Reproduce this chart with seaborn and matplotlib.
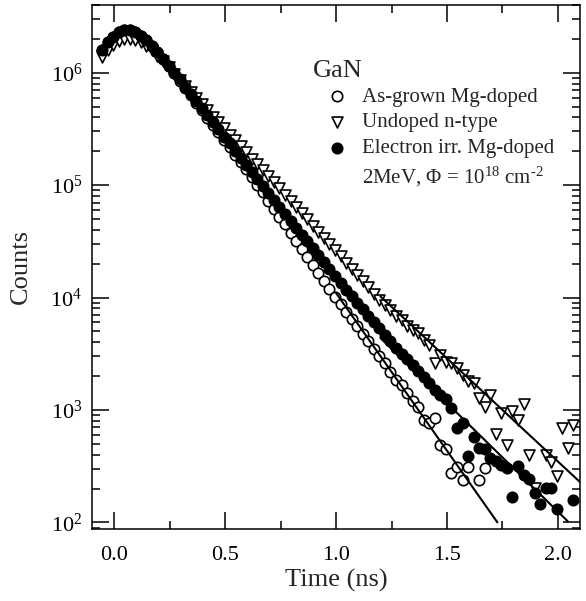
import numpy as np
import pandas as pd
import seaborn as sns
import matplotlib
matplotlib.use("Agg")
import matplotlib.pyplot as plt
from matplotlib.lines import Line2D
from matplotlib.ticker import FixedLocator, MultipleLocator, LogLocator, FormatStrFormatter

# time channels (ns)
time_ns = [-0.055, -0.030, -0.005, 0.020, 0.045, 0.070, 0.095, 0.120, 0.145, 0.170,
           0.195, 0.220, 0.245, 0.270, 0.295, 0.320, 0.345, 0.370, 0.395, 0.420,
           0.445, 0.470, 0.495, 0.520, 0.545, 0.570, 0.595, 0.620, 0.645, 0.670,
           0.695, 0.720, 0.745, 0.770, 0.795, 0.820, 0.845, 0.870, 0.895, 0.920,
           0.945, 0.970, 0.995, 1.020, 1.045, 1.070, 1.095, 1.120, 1.145, 1.170,
           1.195, 1.220, 1.245, 1.270, 1.295, 1.320, 1.345, 1.370, 1.395, 1.420,
           1.445, 1.470, 1.495, 1.520, 1.545, 1.570, 1.595, 1.620, 1.645, 1.670,
           1.695, 1.720, 1.745, 1.770, 1.795, 1.820, 1.845, 1.870, 1.895, 1.920,
           1.945, 1.970, 1.995, 2.020, 2.045, 2.070]

# log10(counts)
log_as_grown = [6.20, 6.27, 6.32, 6.36, 6.38, 6.38, 6.36, 6.33, 6.29, 6.24, 6.18, 6.12, 6.06, 5.995,
                5.93, 5.865, 5.80, 5.73, 5.665, 5.60, 5.535, 5.47, 5.40, 5.335, 5.27, 5.205, 5.14, 5.07, 5.005,
                4.935, 4.86, 4.79, 4.72, 4.65, 4.575, 4.505, 4.435, 4.36, 4.29, 4.22, 4.15, 4.075, 4.005,
                3.94, 3.875, 3.81, 3.745, 3.675, 3.61, 3.545,
                3.48, 3.42, 3.34, 3.27, 3.22, 3.15, 3.08, 3.03,
                2.91, 2.88, 2.93, 2.69, 2.65, 2.44, 2.49, 2.38, 2.49, None, 2.38, 2.48]

log_undoped = [6.14, 6.20, 6.25, 6.28, 6.30, 6.30, 6.29, 6.27, 6.24, 6.20, 6.15, 6.10, 6.05, 5.99, 5.935,
               5.88, 5.83, 5.775, 5.72, 5.665, 5.61, 5.56, 5.505, 5.45, 5.40, 5.345, 5.29, 5.235, 5.185, 5.13,
               5.08, 5.025, 4.97,
               4.915, 4.86, 4.805, 4.75, 4.695, 4.64, 4.585, 4.53, 4.475, 4.42, 4.365, 4.31, 4.255, 4.20,
               4.145, 4.09, 4.035, 3.98,
               3.935, 3.89, 3.84, 3.80, 3.75, 3.71, 3.68, 3.62, 3.58,
               3.42, 3.49, 3.43, 3.42, 3.37, 3.31, 3.26, 3.24, 3.11, 3.03, 3.135, 2.79, 2.97, 2.69, 2.99,
               2.91, 3.05, 2.60, 2.31, None, 2.60, 2.54, 2.41, 2.84, 2.66, 2.87]

log_irradiated = [6.20, 6.27, 6.32, 6.36, 6.38, 6.38, 6.36, 6.33, 6.29, 6.24, 6.18, 6.12, 6.06, 6.00,
                  5.94, 5.875, 5.81, 5.75, 5.685, 5.62, 5.56, 5.495, 5.43, 5.37, 5.305, 5.24, 5.18, 5.115,
                  5.05, 4.99,
                  4.93, 4.87, 4.805, 4.745, 4.685, 4.62, 4.56, 4.50, 4.44, 4.375, 4.315, 4.255, 4.19, 4.13,
                  4.07, 4.01,
                  3.95, 3.895, 3.84, 3.78, 3.725, 3.67, 3.61, 3.555, 3.50, 3.45, 3.40, 3.345, 3.29,
                  3.24, 3.18, 3.135, 3.10, 3.02, 2.84, 2.88, 2.59, 2.76, 2.66, 2.65, 2.57, 2.55, 2.51, 2.48,
                  2.23, 2.50, 2.42, 2.39, 2.26, 2.16, 2.31, 2.31, 2.12, None, None, 2.20]

# exponential tail fits (end points, log10 counts)
fit_time_as_grown = [1.0, 1.727]
fit_log_as_grown = [4.04, 2.0]
fit_time_undoped = [1.2, 2.104]
fit_log_undoped = [4.01, 2.35]
fit_time_irradiated = [1.2, 2.044]
fit_log_irradiated = [3.64, 2.01]


def to_frame(t, logs):
    vals = np.array([np.nan if v is None else v for v in logs], dtype=float)
    df = pd.DataFrame({"time": t[:len(vals)], "counts": 10 ** vals})
    return df.dropna()


def main():
    sns.set_style("ticks")
    plt.rcParams["font.family"] = ["Liberation Serif", "DejaVu Serif"]
    plt.rcParams["mathtext.fontset"] = "custom"
    plt.rcParams["mathtext.rm"] = "Liberation Serif"
    plt.rcParams["mathtext.it"] = "Liberation Serif:italic"

    fig = plt.figure(figsize=(5.86, 6.01), dpi=100)
    ax = fig.add_axes([0.157, 0.12, 0.833, 0.8717])

    ag = to_frame(time_ns, log_as_grown)
    ud = to_frame(time_ns, log_undoped)
    ir = to_frame(time_ns, log_irradiated)

    sns.scatterplot(data=ag, x="time", y="counts", ax=ax, marker="o", s=56,
                    facecolor="white", edgecolor="black", linewidth=1.2,
                    label="As-grown Mg-doped", zorder=3)
    sns.scatterplot(data=ud, x="time", y="counts", ax=ax, marker="v", s=62,
                    facecolor="white", edgecolor="black", linewidth=1.2,
                    label="Undoped n-type", zorder=4)
    sns.scatterplot(data=ir, x="time", y="counts", ax=ax, marker="o", s=56,
                    facecolor="black", edgecolor="black", linewidth=1.2,
                    label="Electron irr. Mg-doped", zorder=5)

    for ft, fl in [(fit_time_as_grown, fit_log_as_grown),
                   (fit_time_undoped, fit_log_undoped),
                   (fit_time_irradiated, fit_log_irradiated)]:
        fdf = pd.DataFrame({"time": ft, "counts": 10 ** np.array(fl)})
        sns.lineplot(data=fdf, x="time", y="counts", ax=ax, color="black",
                     linewidth=1.5, zorder=6)

    ax.set_yscale("log")
    ax.set_xlim(-0.1, 2.1)
    ax.set_ylim(87.5, 4.0e6)

    ax.xaxis.set_major_locator(MultipleLocator(0.5))
    ax.xaxis.set_minor_locator(MultipleLocator(0.25))
    ax.xaxis.set_major_formatter(FormatStrFormatter("%.1f"))
    ax.yaxis.set_major_locator(FixedLocator([1e2, 1e3, 1e4, 1e5, 1e6]))
    ax.yaxis.set_minor_locator(LogLocator(base=10, subs=np.arange(2, 10)))

    ax.tick_params(which="both", direction="in", top=True, right=True,
                   width=1.1, colors="black", labelsize=16)
    ax.tick_params(which="major", length=12.5)
    ax.tick_params(axis="x", which="major", pad=12)
    ax.tick_params(axis="y", which="major", pad=7)
    ax.tick_params(which="minor", length=6)
    for sp in ax.spines.values():
        sp.set_linewidth(1.1)
        sp.set_color("black")

    ax.set_xlabel("Time (ns)", fontsize=19, labelpad=3)
    ax.set_ylabel("Counts", fontsize=19, labelpad=13)

    ax.text(0.453, 0.874, "GaN", transform=ax.transAxes, fontsize=19,
            ha="left", va="center")

    handles, labels = ax.get_legend_handles_labels()
    handles = handles[:3] + [Line2D([], [], linestyle="none")]
    labels = labels[:3] + ["2MeV, \u03a6 = 10$^{18}$ cm$^{\u20102}$"]
    ax.legend(handles, labels, loc="upper left", bbox_to_anchor=(0.476, 0.8435),
              frameon=False, fontsize=15, handletextpad=0.6, labelspacing=0.3,
              borderpad=0, handlelength=1.2, borderaxespad=0)

    fig.savefig("out.png", dpi=100)


if __name__ == "__main__":
    main()
